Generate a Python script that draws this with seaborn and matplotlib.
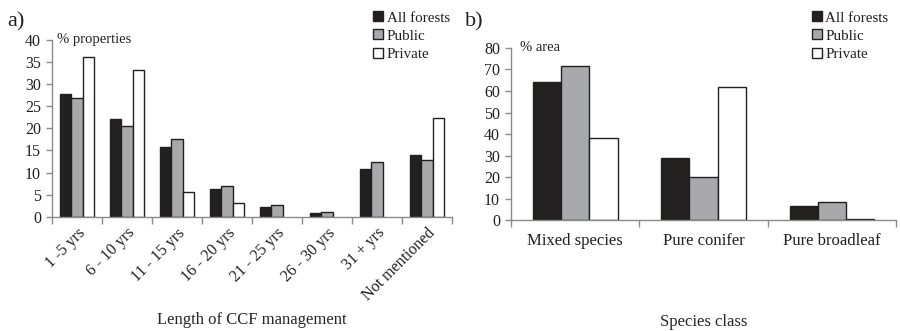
import numpy as np
import pandas as pd
import matplotlib
matplotlib.use("Agg")
import matplotlib.pyplot as plt
from matplotlib.patches import Patch
from matplotlib.ticker import FixedLocator
import seaborn as sns

# Panel a: length of CCF management (% properties)
length_classes = ["1 -5 yrs", "6 - 10 yrs", "11 - 15 yrs", "16 - 20 yrs",
                  "21 - 25 yrs", "26 - 30 yrs", "31 + yrs", "Not mentioned"]
length_all = [27.8, 22.2, 15.8, 6.3, 2.3, 0.8, 10.7, 14.0]
length_public = [26.9, 20.5, 17.6, 6.9, 2.7, 1.0, 12.5, 12.9]
length_private = [36.1, 33.3, 5.7, 3.0, 0.0, 0.0, 0.0, 22.4]

# Panel b: species class (% area)
species_classes = ["Mixed species", "Pure conifer", "Pure broadleaf"]
species_all = [64.2, 29.0, 6.7]
species_public = [71.6, 20.0, 8.5]
species_private = [38.0, 61.7, 0.5]

groups = ["All forests", "Public", "Private"]
colors = {"All forests": "#231f20", "Public": "#a7a9ac", "Private": "#ffffff"}


def long_frame(cats, a, p, r):
    rows = []
    for g, vals in zip(groups, (a, p, r)):
        for c, v in zip(cats, vals):
            rows.append({"cat": c, "group": g, "value": v})
    return pd.DataFrame(rows)


sns.set_theme(style="white")
plt.rcParams["font.family"] = ["Liberation Serif", "DejaVu Serif"]
plt.rcParams["text.color"] = "#231f20"

fig = plt.figure(figsize=(9.0, 3.31), dpi=100)
ax_a = fig.add_axes([0.0578, 0.3453, 0.4442, 0.5337])
ax_b = fig.add_axes([0.5678, 0.3353, 0.4278, 0.5197])


def style_axis(ax, cats, ymax, ystep):
    n = len(cats)
    ax.set_xlim(-0.5, n - 0.5)
    ax.set_ylim(0, ymax)
    ax.set_yticks(np.arange(0, ymax + 0.1, ystep))
    for s in ("top", "right"):
        ax.spines[s].set_visible(False)
    for s in ("left", "bottom"):
        ax.spines[s].set_color("#8a8a8a")
        ax.spines[s].set_linewidth(1.0)
    ax.tick_params(axis="y", which="major", length=4, width=1.0, color="#8a8a8a",
                   labelsize=11.5, pad=4, labelcolor="#231f20", left=True)
    ax.tick_params(axis="x", which="major", length=0, labelcolor="#231f20", bottom=True)
    ax.xaxis.set_minor_locator(FixedLocator(np.arange(-0.5, n, 1.0)))
    ax.tick_params(axis="x", which="minor", length=5, width=1.0, color="#8a8a8a", bottom=True)
    ax.set_ylabel("")
    ax.grid(False)
    # empty categories show no bar outline
    for p in ax.patches:
        if p.get_height() == 0:
            p.set_linewidth(0)


df_a = long_frame(length_classes, length_all, length_public, length_private)
sns.barplot(data=df_a, x="cat", y="value", hue="group", hue_order=groups,
            palette=colors, edgecolor="#231f20", linewidth=1.0, width=0.69,
            ax=ax_a, legend=False, errorbar=None)
style_axis(ax_a, length_classes, 40, 5)
ax_a.set_xticks(range(len(length_classes)))
ax_a.set_xticklabels(length_classes, rotation=45, ha="right", rotation_mode="anchor",
                     fontsize=11.5)
ax_a.tick_params(axis="x", which="major", pad=6)
ax_a.set_xlabel("Length of CCF management", fontsize=12, labelpad=6)
ax_a.text(0.013, 1.005, "% properties", transform=ax_a.transAxes, fontsize=10.5,
          va="center", ha="left")

df_b = long_frame(species_classes, species_all, species_public, species_private)
sns.barplot(data=df_b, x="cat", y="value", hue="group", hue_order=groups,
            palette=colors, edgecolor="#231f20", linewidth=1.0, width=0.66,
            ax=ax_b, legend=False, errorbar=None)
style_axis(ax_b, species_classes, 80, 10)
ax_b.set_xticks(range(len(species_classes)))
ax_b.set_xticklabels(species_classes, fontsize=12)
ax_b.tick_params(axis="x", which="major", pad=9)
ax_b.set_xlabel("Species class", fontsize=12, labelpad=47)
ax_b.text(0.023, 1.0, "% area", transform=ax_b.transAxes, fontsize=10.5,
          va="center", ha="left")

fig.text(0.008, 0.933, "a)", fontsize=16, va="center", ha="left")
fig.text(0.517, 0.933, "b)", fontsize=16, va="center", ha="left")

handles = [Patch(facecolor=colors[g], edgecolor="#231f20", linewidth=1.0, label=g)
           for g in groups]
for x0 in (0.4145, 0.902):
    fig.legend(handles=handles, loc="upper left", bbox_to_anchor=(x0, 0.966),
               bbox_transform=fig.transFigure, frameon=False, fontsize=10.8,
               handlelength=0.65, handleheight=0.65, handletextpad=0.25,
               labelspacing=0.33, borderpad=0.0, borderaxespad=0.0)

fig.savefig("out.png", dpi=100)
